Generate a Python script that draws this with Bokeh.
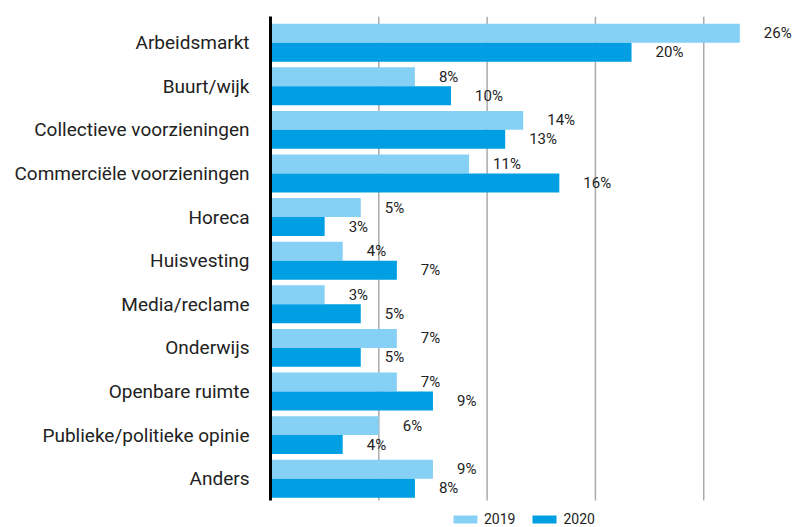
from bokeh.plotting import figure
from bokeh.models import ColumnDataSource, FixedTicker, Legend, LegendItem, Range1d
from bokeh.core.properties import value
from bokeh.embed import file_html
from bokeh.resources import INLINE

categories = ["Arbeidsmarkt", "Buurt/wijk", "Collectieve voorzieningen",
              "Commerciële voorzieningen", "Horeca", "Huisvesting",
              "Media/reclame", "Onderwijs", "Openbare ruimte",
              "Publieke/politieke opinie", "Anders"]
values_2019 = [26, 8, 14, 11, 5, 4, 3, 7, 7, 6, 9]
values_2020 = [20, 10, 13, 16, 3, 7, 5, 5, 9, 4, 8]
series = ["2019", "2020"]
grid_ticks = [6, 12, 18, 24]

n = len(categories)
ypos = [n - 1 - i for i in range(n)]
bh = 0.435
off = bh / 2
y_top = n - 0.5 + 0.1
y_bot = -0.5
px_per_unit = 484 / (y_top - y_bot)
y_start = y_bot - 27 / px_per_unit   # room for the legend strip

src19 = ColumnDataSource(dict(y=[y + off for y in ypos], v=values_2019,
                              lab=[f"{v}%" for v in values_2019]))
src20 = ColumnDataSource(dict(y=[y - off for y in ypos], v=values_2020,
                              lab=[f"{v}%" for v in values_2020]))

FONT = "Roboto"
TXT = "#222222"
C19 = "#86D0F5"
C20 = "#009FE3"
GRID = "#aaaaaa"

p = figure(width=804, height=527, output_backend="svg", toolbar_location=None,
           x_range=Range1d(0, 29.36), y_range=Range1d(y_start, y_top),
           min_border_left=270, min_border_right=4, min_border_top=16,
           min_border_bottom=0)
p.outline_line_color = None
p.background_fill_color = "white"
p.border_fill_color = "white"

p.xaxis.visible = False
p.xaxis.ticker = FixedTicker(ticks=grid_ticks)
p.xgrid.grid_line_color = None
p.ygrid.grid_line_color = None

# vertical grid lines limited to the bar area
gsrc = ColumnDataSource(dict(x=grid_ticks))
p.segment(x0="x", x1="x", y0=y_bot, y1=y_top, source=gsrc,
          line_color=GRID, line_width=1.5)

r19 = p.hbar(y="y", right="v", left=0, height=bh, source=src19,
             fill_color=C19, line_color=None)
r20 = p.hbar(y="y", right="v", left=0, height=bh, source=src20,
             fill_color=C20, line_color=None)

for s in (src19, src20):
    p.text(x="v", y="y", text="lab", source=s, x_offset=24,
           text_align="left", text_baseline="middle",
           text_font=value(FONT), text_font_size="15px", text_color=TXT)

p.yaxis.ticker = FixedTicker(ticks=ypos)
p.yaxis.bounds = (y_bot, y_top)
p.yaxis.major_label_overrides = {y: c for y, c in zip(ypos, categories)}
p.yaxis.major_tick_line_color = None
p.yaxis.minor_tick_line_color = None
p.yaxis.axis_line_color = "black"
p.yaxis.axis_line_width = 3
p.yaxis.major_label_standoff = 15
p.yaxis.major_label_text_font = FONT
p.yaxis.major_label_text_font_size = "19px"
p.yaxis.major_label_text_color = TXT

legend = Legend(items=[LegendItem(label=series[0], renderers=[r19]),
                       LegendItem(label=series[1], renderers=[r20])],
                orientation="horizontal", location=(180, 0),
                glyph_width=30, glyph_height=10, label_height=14,
                label_standoff=4, spacing=14, padding=0, margin=0,
                border_line_color=None, background_fill_alpha=0,
                label_text_font=FONT, label_text_font_size="14px",
                label_text_color=TXT)
p.add_layout(legend, "center")

open("out.html", "w").write(file_html(p, INLINE))
